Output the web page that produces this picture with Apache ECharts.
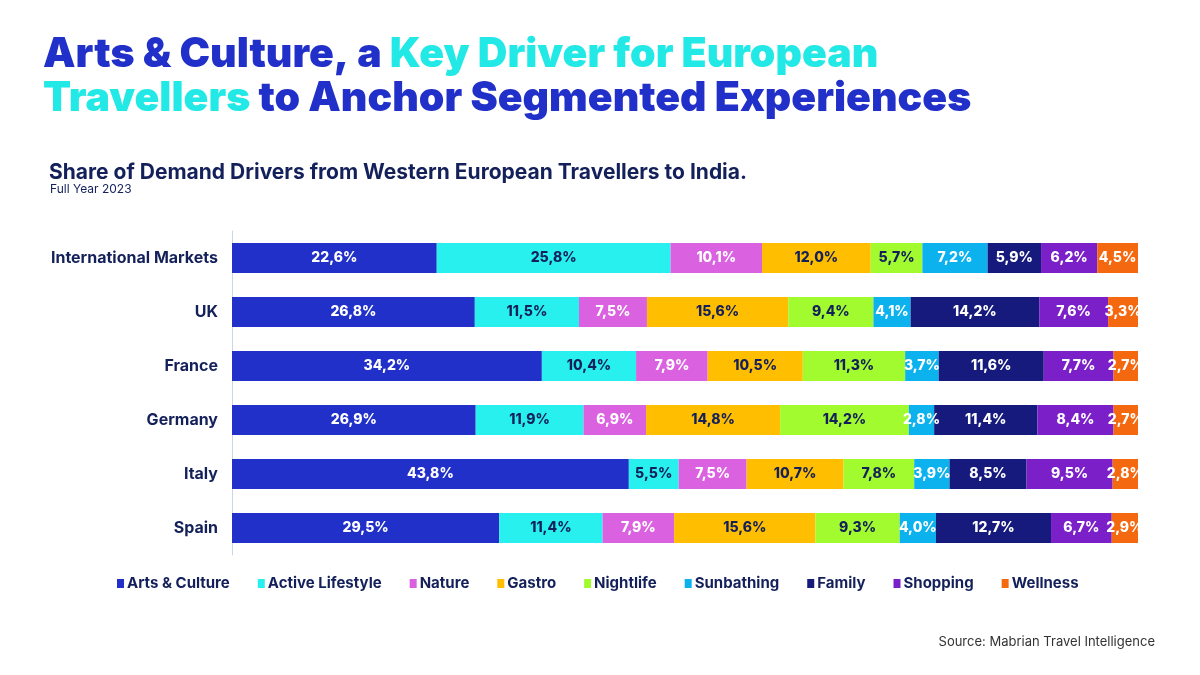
<!DOCTYPE html>
<html>
<head>
<meta charset="utf-8">
<script src="https://cdn.jsdelivr.net/npm/echarts@6/dist/echarts.min.js"></script>
<style>
  html, body { margin: 0; padding: 0; background: #ffffff; }
  #chart { width: 1200px; height: 675px; }
</style>
</head>
<body>
<div id="chart"></div>
<script>
var markets = ['International Markets', 'UK', 'France', 'Germany', 'Italy', 'Spain'];

var artsCulture    = [22.6, 26.8, 34.2, 26.9, 43.8, 29.5];
var activeLifestyle = [25.8, 11.5, 10.4, 11.9, 5.5, 11.4];
var nature         = [10.1, 7.5, 7.9, 6.9, 7.5, 7.9];
var gastro         = [12.0, 15.6, 10.5, 14.8, 10.7, 15.6];
var nightlife      = [5.7, 9.4, 11.3, 14.2, 7.8, 9.3];
var sunbathing     = [7.2, 4.1, 3.7, 2.8, 3.9, 4.0];
var family         = [5.9, 14.2, 11.6, 11.4, 8.5, 12.7];
var shopping       = [6.2, 7.6, 7.7, 8.4, 9.5, 6.7];
var wellness       = [4.5, 3.3, 2.7, 2.7, 2.8, 2.9];

var drivers = [
  { name: 'Arts & Culture',   data: artsCulture,     color: '#2130c8', text: '#ffffff' },
  { name: 'Active Lifestyle', data: activeLifestyle, color: '#27f0ee', text: '#13205a' },
  { name: 'Nature',           data: nature,          color: '#da62e0', text: '#ffffff' },
  { name: 'Gastro',           data: gastro,          color: '#ffbe00', text: '#13205a' },
  { name: 'Nightlife',        data: nightlife,       color: '#a2fb2e', text: '#13205a' },
  { name: 'Sunbathing',       data: sunbathing,      color: '#0cb2ee', text: '#ffffff' },
  { name: 'Family',           data: family,          color: '#151a7c', text: '#ffffff' },
  { name: 'Shopping',         data: shopping,        color: '#7b1fc8', text: '#ffffff' },
  { name: 'Wellness',         data: wellness,        color: '#f4680f', text: '#ffffff' }
];

var navy = '#13205a';

var myChart = echarts.init(document.getElementById('chart'));

var series = drivers.map(function (d) {
  return {
    name: d.name,
    type: 'bar',
    stack: 'total',
    barWidth: 30,
    data: d.data,
    itemStyle: { color: d.color },
    label: {
      show: true,
      position: 'inside',
      color: d.text,
      fontFamily: 'Inter',
      fontWeight: 800,
      fontSize: 14,
      formatter: function (p) {
        return p.value.toFixed(1).replace('.', ',') + '%';
      }
    }
  };
});

var option = {
  backgroundColor: '#ffffff',
  color: drivers.map(function (d) { return d.color; }),
  title: [
    {
      left: 38,
      top: 28,
      text: '{b|Arts & Culture, a }{c|Key Driver for European}\n{c|Travellers}{b| to Anchor Segmented Experiences}',
      textStyle: {
        rich: {
          b: { color: '#2130c8', fontFamily: 'Inter', fontWeight: 900, fontSize: 41, lineHeight: 44 },
          c: { color: '#22e8e6', fontFamily: 'Inter', fontWeight: 900, fontSize: 41, lineHeight: 44 }
        }
      }
    },
    {
      left: 44,
      top: 157,
      text: 'Share of Demand Drivers from Western European Travellers to India.',
      textStyle: { color: navy, fontFamily: 'Inter', fontWeight: 700, fontSize: 21 }
    },
    {
      left: 45,
      top: 178,
      text: 'Full Year 2023',
      textStyle: { color: navy, fontFamily: 'Inter', fontWeight: 400, fontSize: 12 }
    },
    {
      right: 40,
      top: 631,
      text: 'Source: Mabrian Travel Intelligence',
      textStyle: { color: '#333333', fontFamily: 'Inter', fontWeight: 400, fontSize: 13 }
    }
  ],
  legend: {
    left: 112,
    top: 571,
    icon: 'rect',
    itemWidth: 7,
    itemHeight: 9,
    itemGap: 28,
    textStyle: { color: navy, fontFamily: 'Inter', fontWeight: 700, fontSize: 15, padding: [0, 0, 0, -2] },
    data: drivers.map(function (d) { return d.name; })
  },
  grid: {
    left: 232,
    right: 62,
    top: 231,
    bottom: 120
  },
  xAxis: {
    type: 'value',
    min: 0,
    max: 100,
    show: false
  },
  yAxis: {
    type: 'category',
    inverse: true,
    data: markets,
    axisLine: { show: true, lineStyle: { color: '#c9d5ec', width: 1 } },
    axisTick: { show: false },
    axisLabel: {
      color: navy,
      fontFamily: 'Inter',
      fontWeight: 700,
      fontSize: 16,
      margin: 14
    }
  },
  series: series
};

myChart.setOption(option);
</script>
</body>
</html>
